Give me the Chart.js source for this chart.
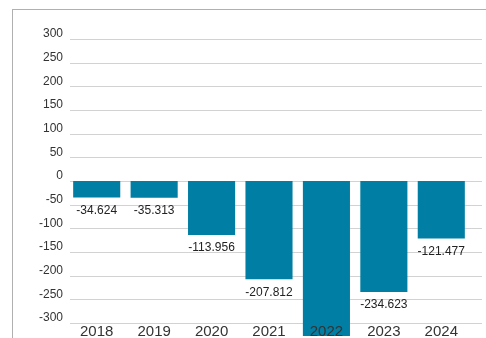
<!DOCTYPE html>
<html>
<head>
<meta charset="utf-8">
<script src="https://cdn.jsdelivr.net/npm/chart.js@4"></script>
<style>
    html, body { margin: 0; padding: 0; background: #fff; }
    #wrap { position: relative; width: 486px; height: 338px; overflow: hidden; }
    #frame { position: absolute; left: 12px; top: 9px; right: 0; bottom: 0;
             border-left: 1px solid #b0b0b0; border-top: 1px solid #b0b0b0; }
    canvas { position: absolute; left: 0; top: 0; }
</style>
</head>
<body>
<div id="wrap">
    <div id="frame"></div>
    <canvas id="grafico" width="486" height="338"></canvas>
</div>
<script>
// anos e valores do saldo
const anos = ['2018', '2019', '2020', '2021', '2022', '2023', '2024'];
const valores = [-34.624, -35.313, -113.956, -207.812, -327.5, -234.623, -121.477];
const eixoMin = -300;
const eixoMax = 300;
const passo = 50;

const FONTE = 'Arial, "Liberation Sans", sans-serif';

// linhas de grade horizontais, um pouco mais longas que a área do gráfico
const gradePlugin = {
    id: 'grade',
    beforeDatasetsDraw(chart) {
        const { ctx, chartArea, scales } = chart;
        ctx.save();
        ctx.strokeStyle = '#d2d2d2';
        ctx.lineWidth = 1;
        scales.y.ticks.forEach(t => {
            const y = Math.round(scales.y.getPixelForValue(t.value)) + 0.5;
            ctx.beginPath();
            ctx.moveTo(chartArea.left + 2, y);
            ctx.lineTo(chartArea.right + 12, y);
            ctx.stroke();
        });
        ctx.restore();
    }
};

// rótulos com o valor embaixo de cada barra
const rotulosPlugin = {
    id: 'rotulos',
    afterDatasetsDraw(chart) {
        const { ctx } = chart;
        const meta = chart.getDatasetMeta(0);
        ctx.save();
        ctx.font = '12px ' + FONTE;
        ctx.fillStyle = '#222';
        ctx.textAlign = 'center';
        ctx.textBaseline = 'middle';
        meta.data.forEach((bar, i) => {
            ctx.fillText(valores[i].toFixed(3), bar.x, bar.y + 13);
        });
        ctx.restore();
    }
};

new Chart(document.getElementById('grafico').getContext('2d'), {
    type: 'bar',
    data: {
        labels: anos,
        datasets: [{
            data: valores,
            backgroundColor: '#007ea3',
            borderWidth: 0,
            categoryPercentage: 1,
            barPercentage: 0.82,
            clip: false
        }]
    },
    options: {
        responsive: false,
        animation: false,
        layout: { padding: { top: 39, right: 16, left: 0, bottom: 0 } },
        plugins: {
            legend: { display: false },
            tooltip: { enabled: false }
        },
        scales: {
            x: {
                grid: { display: false, drawTicks: false },
                border: { display: false },
                ticks: {
                    z: 1,
                    color: '#333',
                    font: { family: FONTE, size: 15 },
                    padding: 0,
                    maxRotation: 0
                },
                afterFit: (scale) => { scale.height = 15; }
            },
            y: {
                min: eixoMin,
                max: eixoMax,
                grid: { display: false, drawTicks: false },
                border: { display: false },
                ticks: {
                    stepSize: passo,
                    color: '#333',
                    font: { family: FONTE, size: 12 },
                    padding: 5,
                    labelOffset: -5
                },
                afterFit: (scale) => { scale.width = 68; }
            }
        }
    },
    plugins: [gradePlugin, rotulosPlugin]
});
</script>
</body>
</html>
